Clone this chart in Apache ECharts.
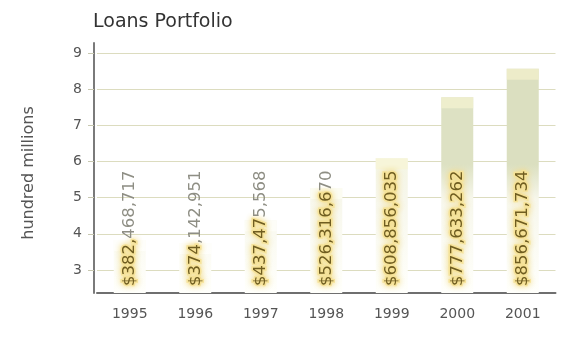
<!DOCTYPE html>
<html>
<head>
<meta charset="utf-8">
<script src="https://cdn.jsdelivr.net/npm/echarts@6/dist/echarts.min.js"></script>
<style>html,body{margin:0;padding:0;background:#fff}#c{width:572px;height:338px}</style>
</head>
<body>
<div id="c"></div>
<script>
var years = ['1995', '1996', '1997', '1998', '1999', '2000', '2001'];
var values = [3.82468717, 3.74142951, 4.37475568, 5.26316670, 6.08856035, 7.77633262, 8.56671734];
var valueLabels = ['$382,468,717', '$374,142,951', '$437,475,568', '$526,316,670', '$608,856,035', '$777,633,262', '$856,671,734'];
var yTicks = [3, 4, 5, 6, 7, 8, 9];

// per-bar shading (style only)
var bodyTopColors = ['#fefefb', '#fefefb', '#fdfdf8', '#fcfcf3', '#f4f5e4', '#dde1c3', '#dbdfc0'];
var capColors = ['#fffffd', '#fffffd', '#fefefa', '#fdfcf2', '#f8f5d6', '#f3f1d0', '#f1efcb'];

var font = 'DejaVu Sans';
var labelSize = 16.5;
var labelDistance = 7;
var yMin = 2.36, yMax = 9.28;

function bodyGradient(top) {
  return {
    type: 'linear', x: 0, y: 60, x2: 0, y2: 292, global: true,
    colorStops: [
      {offset: 0, color: top},
      {offset: 0.45, color: top},
      {offset: 0.6, color: '#f7f7ec'},
      {offset: 1, color: '#fffffb'}
    ]
  };
}

var bodyData = values.map(function (v, i) {
  return {value: v, itemStyle: {color: bodyGradient(bodyTopColors[i])}};
});
var capData = values.map(function (v, i) {
  return {value: v, itemStyle: {color: capColors[i]}};
});

var chart = echarts.init(document.getElementById('c'), null, {renderer: 'canvas'});

function makeOption(insideCounts) {
  return {
    animation: false,
    backgroundColor: '#ffffff',
    title: {
      text: 'Loans Portfolio',
      left: 88, top: 8,
      textStyle: {fontFamily: font, fontSize: 19, fontWeight: 'normal', color: '#333333'}
    },
    grid: {left: 97, right: 572 - 97 - 458.5, top: 43, bottom: 45, containLabel: false},
    xAxis: {
      type: 'category',
      data: years,
      axisLine: {show: true, lineStyle: {color: '#6f6f6f', width: 2}},
      axisTick: {show: false},
      axisLabel: {fontFamily: font, fontSize: 14, color: '#555555', margin: 14}
    },
    yAxis: {
      type: 'value',
      min: yMin, max: yMax,
      offset: 3,
      name: 'hundred millions',
      nameLocation: 'middle',
      nameGap: 57,
      nameRotate: 90,
      nameTextStyle: {fontFamily: font, fontSize: 16, color: '#555555', padding: [0, 0, 0, -10]},
      axisLine: {show: true, lineStyle: {color: '#7a7a7a', width: 2}},
      axisTick: {show: true, length: 6, customValues: yTicks, lineStyle: {color: '#c8c8b0'}},
      axisLabel: {fontFamily: font, fontSize: 14, color: '#555555', margin: 12, customValues: yTicks},
      splitLine: {show: false}
    },
    series: [
      {
        type: 'bar',
        data: bodyData,
        barWidth: 32,
        barGap: '-100%',
        z: 2,
        silent: true,
        markLine: {
          silent: true,
          symbol: 'none',
          z: 1,
          label: {show: false},
          lineStyle: {type: 'solid', color: '#dcdcbf', width: 1},
          data: yTicks.map(function (v) { return {yAxis: v}; })
        }
      },
      {
        type: 'scatter',
        data: capData,
        symbol: 'rect',
        symbolSize: [32, 11],
        symbolOffset: [0, 5.5],
        z: 3,
        silent: true
      },
      {
        type: 'bar',
        data: values,
        barWidth: 32,
        barGap: '-100%',
        z: 4,
        silent: true,
        itemStyle: {color: 'rgba(0,0,0,0)'},
        label: {
          show: true,
          position: 'insideBottom',
          rotate: 90,
          align: 'left',
          verticalAlign: 'middle',
          distance: labelDistance,
          formatter: function (p) {
            var s = valueLabels[p.dataIndex];
            var n = insideCounts ? insideCounts[p.dataIndex] : s.length;
            var a = s.slice(0, n), b = s.slice(n);
            return (a ? '{g|' + a + '}' : '') + (b ? '{s|' + b + '}' : '');
          },
          fontFamily: font,
          fontSize: labelSize,
          rich: {
            g: {
              fontFamily: font, fontSize: labelSize,
              color: '#6f5d20',
              textBorderColor: '#f7e49c',
              textBorderWidth: 3,
              textShadowColor: '#f4dc84',
              textShadowBlur: 6
            },
            s: {
              fontFamily: font, fontSize: labelSize,
              color: '#8e8e84'
            }
          }
        }
      }
    ]
  };
}

chart.setOption(makeOption(null));

// split each label where it leaves its bar (gold inside, grey above)
var ctx = document.createElement('canvas').getContext('2d');
ctx.font = labelSize + 'px "' + font + '"';
var basePx = chart.convertToPixel({yAxisIndex: 0}, yMin);
var counts = values.map(function (v, i) {
  var topPx = chart.convertToPixel({yAxisIndex: 0}, v);
  var avail = basePx - labelDistance - topPx + 3;
  var s = valueLabels[i], n = 0;
  while (n < s.length && ctx.measureText(s.slice(0, n + 1)).width <= avail) n++;
  return n;
});
chart.setOption(makeOption(counts), true);
</script>
</body>
</html>
